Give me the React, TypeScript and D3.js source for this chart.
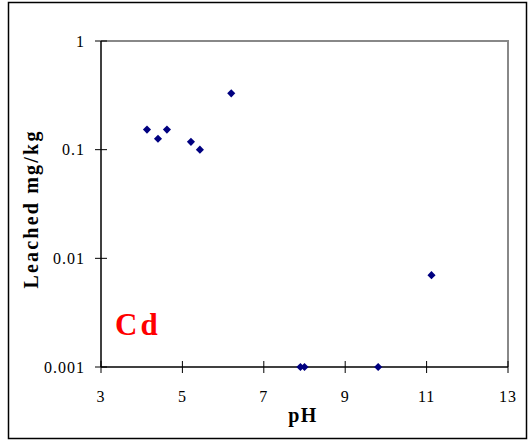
import React from "react";
import * as d3 from "d3";

// Leached Cd versus pH
const phValues = [4.13, 4.4, 4.62, 5.21, 5.43, 6.2, 7.9, 8.0, 9.81, 11.12];
const leached = [0.153, 0.126, 0.153, 0.118, 0.1, 0.33, 0.001, 0.001, 0.001, 0.007];
const xTicks = [3, 5, 7, 9, 11, 13];
const yTicks = [0.001, 0.01, 0.1, 1];

const W = 529;
const H = 441;
const font = "'Liberation Serif', 'Times New Roman', serif";

export default function App() {
  const x = d3.scaleLinear().domain([3, 13]).range([101, 508]);
  const y = d3.scaleLog().domain([0.001, 1]).range([367, 41]);
  const diamond = d3.symbol().type(d3.symbolDiamond2).size(42)();

  return (
    <svg
      width={W}
      height={H}
      style={{ position: "absolute", left: 0, top: 0 }}
      fontFamily={font}
    >
      <rect x={0} y={0} width={W} height={H} fill="#fff" />
      <rect x={8.5} y={2.5} width={518} height={436} fill="none" stroke="#000" strokeWidth={1.5} />

      {/* plot frame: gray top/right, black axes */}
      <path
        d={`M${x(3)},${y(1)} H${x(13)} V${y(0.001)}`}
        fill="none"
        stroke="#888"
        strokeWidth={2}
      />
      <line x1={x(3)} x2={x(3)} y1={y(1)} y2={y(0.001)} stroke="#000" strokeWidth={1.5} />
      <line x1={x(3)} x2={x(13)} y1={y(0.001)} y2={y(0.001)} stroke="#000" strokeWidth={1.5} />

      {yTicks.map((t) => (
        <g key={"y" + t}>
          <line x1={x(3) - 6} x2={x(3) + 6} y1={y(t)} y2={y(t)} stroke="#000" strokeWidth={1} />
          <text x={x(3) - 16} y={y(t)} dy="0.35em" textAnchor="end" fontSize={16} letterSpacing={1}>
            {String(t)}
          </text>
        </g>
      ))}

      {xTicks.map((t) => (
        <g key={"x" + t}>
          <line x1={x(t)} x2={x(t)} y1={y(0.001) - 6} y2={y(0.001) + 6} stroke="#000" strokeWidth={1} />
          <text x={x(t)} y={y(0.001) + 35} textAnchor="middle" fontSize={16} letterSpacing={1}>
            {t}
          </text>
        </g>
      ))}

      <text x={303} y={422} textAnchor="middle" fontSize={20} fontWeight="bold" letterSpacing={1.5}>
        pH
      </text>
      <text
        transform={`translate(38,209) rotate(-90)`}
        textAnchor="middle"
        fontSize={20}
        fontWeight="bold"
        letterSpacing={2.2}
      >
        Leached mg/kg
      </text>

      <text x={115} y={335} fontSize={31} fontWeight="bold" fill="#ff0000" letterSpacing={3}>
        Cd
      </text>

      {phValues.map((p, i) => (
        <path
          key={i}
          d={diamond as string}
          transform={`translate(${x(p)},${y(leached[i])})`}
          fill="#000080"
        />
      ))}
    </svg>
  );
}
